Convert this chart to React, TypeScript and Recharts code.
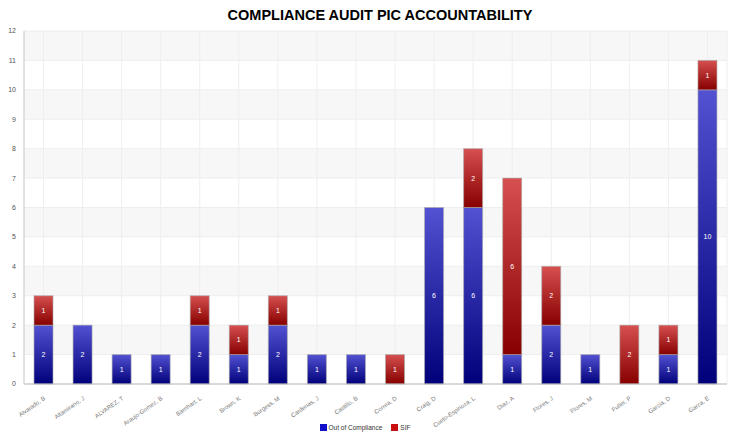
import React from 'react';
import { BarChart, Bar, XAxis, YAxis, CartesianGrid, Legend } from 'recharts';

const categories = [
  'Alvarado, B', 'Altamirano, J', 'ALVAREZ, T', 'Araujo-Gomez, B', 'Barnhart, L', 'Brown, K',
  'Burgess, M', 'Cardenas, J', 'Castillo, B', 'Correa, D', 'Craig, D', 'Cueto-Espinoza, L',
  'Diaz, A', 'Flores, J', 'Flores, M', 'Fuller, P', 'Garcia, D', 'Garza, E',
];
const outOfCompliance = [2, 2, 1, 1, 2, 1, 2, 1, 1, 0, 6, 6, 1, 2, 1, 0, 1, 10];
const sif = [1, 0, 0, 0, 1, 1, 1, 0, 0, 1, 0, 2, 6, 2, 0, 2, 1, 1];
const yTicks = [0, 1, 2, 3, 4, 5, 6, 7, 8, 9, 10, 11, 12];
const legendItems = [
  { name: 'Out of Compliance', color: '#1010c8' },
  { name: 'SIF', color: '#c81010' },
];

const data = categories.map((name, i) => ({ name, ooc: outOfCompliance[i], sif: sif[i] }));

const FONT = "Arial, 'Liberation Sans', sans-serif";

const XTick = (props: any) => {
  const { x, y, payload } = props;
  return (
    <g transform={`translate(${x},${y + 4})`}>
      <text x={0} y={0} dy={4} textAnchor="end" fill="#777" fontSize={6} fontFamily={FONT} transform="rotate(-35)">
        {payload.value}
      </text>
    </g>
  );
};

const makeShape = (key: string) => (props: any) => {
  const { x, y, width, height, fill, payload } = props;
  const v = payload ? payload[key] : 0;
  if (!v || !height) return <g />;
  const cx = Number(x) + Number(width) / 2;
  const cy = Number(y) + Number(height) / 2;
  return (
    <g>
      <rect x={x} y={y} width={width} height={height} fill={fill} stroke="#aaa" strokeOpacity={0.6} />
      <text x={cx} y={cy} dy={2.5} textAnchor="middle" fill="#fff" fontSize={7} fontFamily={FONT}>
        {v}
      </text>
    </g>
  );
};

const LegendContent = () => (
  <div style={{ display: 'flex', justifyContent: 'center', alignItems: 'center', fontFamily: FONT, fontSize: 6.5, color: '#333', paddingLeft: 12 }}>
    {legendItems.map((it) => (
      <span key={it.name} style={{ display: 'inline-flex', alignItems: 'center', marginRight: 9 }}>
        <span style={{ width: 7, height: 7, background: it.color, display: 'inline-block', marginRight: 2 }} />
        {it.name}
      </span>
    ))}
  </div>
);

export default function App() {
  return (
    <div style={{ position: 'absolute', left: 0, top: 0, width: 734, height: 435, background: '#fff' }}>
      <svg width={0} height={0} style={{ position: 'absolute' }}>
        <defs>
          <linearGradient id="gBlue" x1="0" y1="0" x2="0" y2="1">
            <stop offset="0%" stopColor="#5252d2" />
            <stop offset="100%" stopColor="#00007a" />
          </linearGradient>
          <linearGradient id="gRed" x1="0" y1="0" x2="0" y2="1">
            <stop offset="0%" stopColor="#d65050" />
            <stop offset="100%" stopColor="#870000" />
          </linearGradient>
        </defs>
      </svg>
      <div style={{ position: 'absolute', left: 0, width: 760, top: 7, textAlign: 'center', fontFamily: FONT, fontWeight: 'bold', fontSize: 14.5, color: '#000', zIndex: 2 }}>
        COMPLIANCE AUDIT PIC ACCOUNTABILITY
      </div>
      <BarChart width={734} height={435} data={data} margin={{ top: 31, right: 7, left: 0, bottom: 0 }} barSize={19}>
        <CartesianGrid stroke="#eeeeee" horizontalFill={['#f7f7f7', '#ffffff']} vertical={true} />
        <XAxis dataKey="name" interval={0} height={40} tick={<XTick />} tickLine={false} axisLine={{ stroke: '#bbb' }} />
        <YAxis width={24} domain={[0, 12]} ticks={yTicks} interval={0} tick={{ fontSize: 7, fill: '#555', fontFamily: 'Arial' }} tickLine={false} axisLine={{ stroke: '#ccc' }} />
        <Legend verticalAlign="bottom" height={11} content={<LegendContent />} />
        <Bar dataKey="ooc" name="Out of Compliance" stackId="a" fill="url(#gBlue)" isAnimationActive={false} shape={makeShape('ooc')} />
        <Bar dataKey="sif" name="SIF" stackId="a" fill="url(#gRed)" isAnimationActive={false} shape={makeShape('sif')} />
      </BarChart>
    </div>
  );
}
